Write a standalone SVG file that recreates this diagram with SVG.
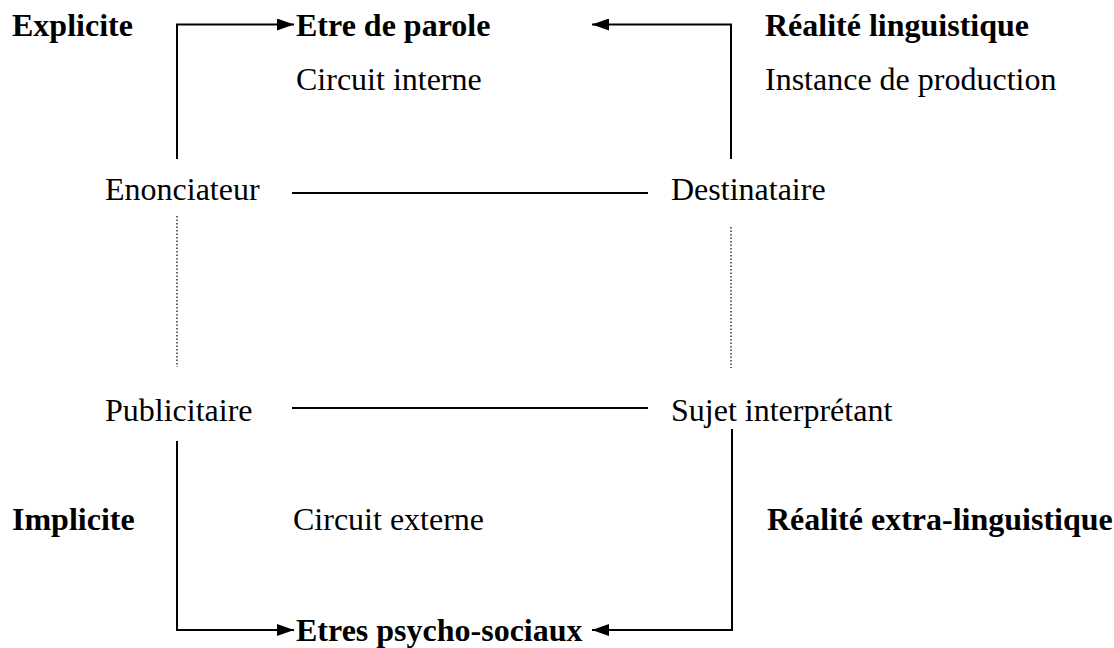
<svg xmlns="http://www.w3.org/2000/svg" width="1114" height="648" viewBox="0 0 1114 648">
<style>
text{font-family:"Liberation Serif","Times New Roman",serif;font-size:32px;fill:#000}
.b{font-weight:bold}
.ln{stroke:#000;stroke-width:2;fill:none}
.dot{stroke:#000;stroke-width:1.2;stroke-dasharray:1.5 2;fill:none}
</style>
<defs>
<marker id="ah" markerUnits="userSpaceOnUse" markerWidth="18" markerHeight="12" refX="17" refY="6" orient="auto">
<path d="M0,0 L17,6 L0,12 Z" fill="#000"/>
</marker>
</defs>
<rect width="1114" height="648" fill="#fff"/>
<g id="connectors">
<polyline class="ln" points="177,159 177,24.5 294,24.5" marker-end="url(#ah)"/>
<polyline class="ln" points="731,159 731,24.5 592,24.5" marker-end="url(#ah)"/>
<line class="ln" x1="292" y1="193" x2="648" y2="193"/>
<line class="ln" x1="292" y1="408" x2="648" y2="408"/>
<line class="dot" x1="177" y1="216" x2="177" y2="367"/>
<line class="dot" x1="731" y1="227" x2="731" y2="368"/>
<polyline class="ln" points="177,441 177,630 294,630" marker-end="url(#ah)"/>
<polyline class="ln" points="732,429 732,630 592,630" marker-end="url(#ah)"/>
</g>
<g id="explicite"><text class="b" x="12" y="36">Explicite</text></g>
<g id="etre-de-parole"><text class="b" x="296" y="36">Etre de parole</text></g>
<g id="realite-linguistique"><text class="b" x="765" y="36">Réalité linguistique</text></g>
<g id="circuit-interne"><text x="296" y="90">Circuit interne</text></g>
<g id="instance-production"><text x="765" y="90">Instance de production</text></g>
<g id="enonciateur"><text x="105" y="200">Enonciateur</text></g>
<g id="destinataire"><text x="671" y="200">Destinataire</text></g>
<g id="publicitaire"><text x="105" y="421">Publicitaire</text></g>
<g id="sujet-interpretant"><text x="671" y="421">Sujet interprétant</text></g>
<g id="implicite"><text class="b" x="12" y="530">Implicite</text></g>
<g id="circuit-externe"><text x="293" y="530">Circuit externe</text></g>
<g id="realite-extra"><text class="b" x="767" y="530">Réalité extra-linguistique</text></g>
<g id="etres-psycho"><text class="b" x="296" y="641">Etres psycho-sociaux</text></g>
</svg>
